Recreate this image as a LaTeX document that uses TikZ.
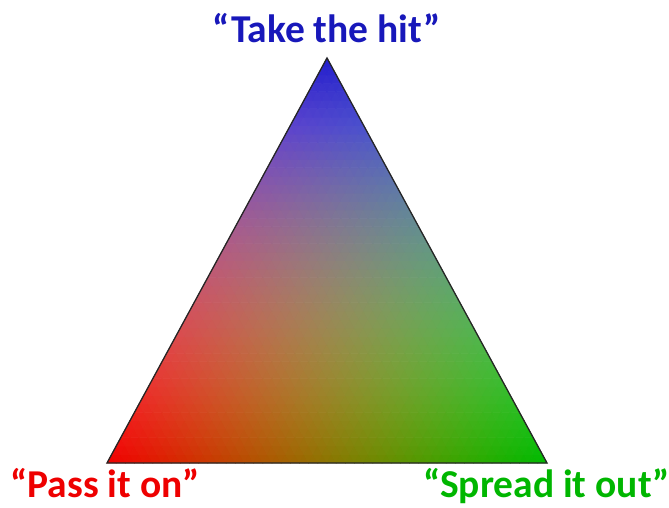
\documentclass[tikz,border=0pt]{standalone}
\usepackage{fontspec}
\setmainfont{Carlito}
\definecolor{hitblue}{RGB}{24,24,186}
\definecolor{passred}{RGB}{238,0,0}
\definecolor{spreadgreen}{RGB}{0,182,0}
\tikzset{
  cornerlabel/.style={font=\fontsize{39.5}{42}\selectfont\bfseries, anchor=base, inner sep=0pt},
  cellfill/.style={fill=cell, draw=cell, line width=0.7pt, line join=round}
}
% kolor komorki: wagi barycentryczne (czerwony, zielony, niebieski)
\newcommand{\cellcolour}[3]{%
  \pgfmathsetmacro\wred{#1*sqrt(#1)}%
  \pgfmathsetmacro\wgreen{#2*sqrt(#2)}%
  \pgfmathsetmacro\wblue{min(1,1.2*#3)}%
  \pgfmathsetmacro\wyel{330*#3*(#1+#2)+220*#1*#2}%
  \pgfmathsetmacro\chr{min(1,(240*\wred+35*#3+\wyel)/255)}%
  \pgfmathsetmacro\chg{min(1,(185*\wgreen+30*#3+0.92*\wyel)/255)}%
  \pgfmathsetmacro\chb{min(1,205*\wblue/255)}%
  \definecolor{cell}{rgb}{\chr,\chg,\chb}}
\begin{document}
\begin{tikzpicture}[x=1pt, y=1pt]
    \useasboundingbox (0,0) rectangle (669,508);
    \def\N{48}
    \pgfmathsetmacro\du{440/\N}
    \pgfmathsetmacro\dv{220/\N}
    \pgfmathsetmacro\dh{405/\N}
    % --- wierzcholki ---
    \coordinate (pass)   at (107,45);
    \coordinate (spread) at (547,45);
    \coordinate (take)   at (327,450);
    % --- wypelnienie: siatka malych trojkatow ---
    \foreach \j in {0,...,47} {
      \pgfmathtruncatemacro\imax{\N-1-\j}
      \foreach \i in {0,...,\imax} {
        \pgfmathsetmacro\px{107+\i*\du+\j*\dv}
        \pgfmathsetmacro\py{45+\j*\dh}
        % trojkat "w gore"
        \pgfmathsetmacro\wgb{(\i+1/3)/\N}
        \pgfmathsetmacro\wgc{(\j+1/3)/\N}
        \pgfmathsetmacro\wga{1-\wgb-\wgc}
        \cellcolour{\wga}{\wgb}{\wgc}
        \filldraw[cellfill]
          (\px,\py) -- ++(\du,0) -- ++(-\dv,\dh) -- cycle;
        % trojkat "w dol"
        \ifnum\i<\imax
          \pgfmathsetmacro\wgb{(\i+2/3)/\N}
          \pgfmathsetmacro\wgc{(\j+2/3)/\N}
          \pgfmathsetmacro\wga{1-\wgb-\wgc}
          \cellcolour{\wga}{\wgb}{\wgc}
          \filldraw[cellfill]
            (\px+\du,\py) -- ++(\dv,\dh) -- ++(-\du,0) -- cycle;
        \fi
      }
    }
    % --- obrys ---
    \draw[line width=1.3pt, draw=black!85, line join=miter] (pass) -- (spread) -- (take) -- cycle;
    % --- etykiety ---
    \node[cornerlabel, text=hitblue]     (takelabel)   at (326.5,465) {“Take the hit”};
    \node[cornerlabel, text=passred]     (passlabel)   at (105,10)    {“Pass it on”};
    \node[cornerlabel, text=spreadgreen] (spreadlabel) at (546.5,10)  {“Spread it out”};
  \end{tikzpicture}
\end{document}
